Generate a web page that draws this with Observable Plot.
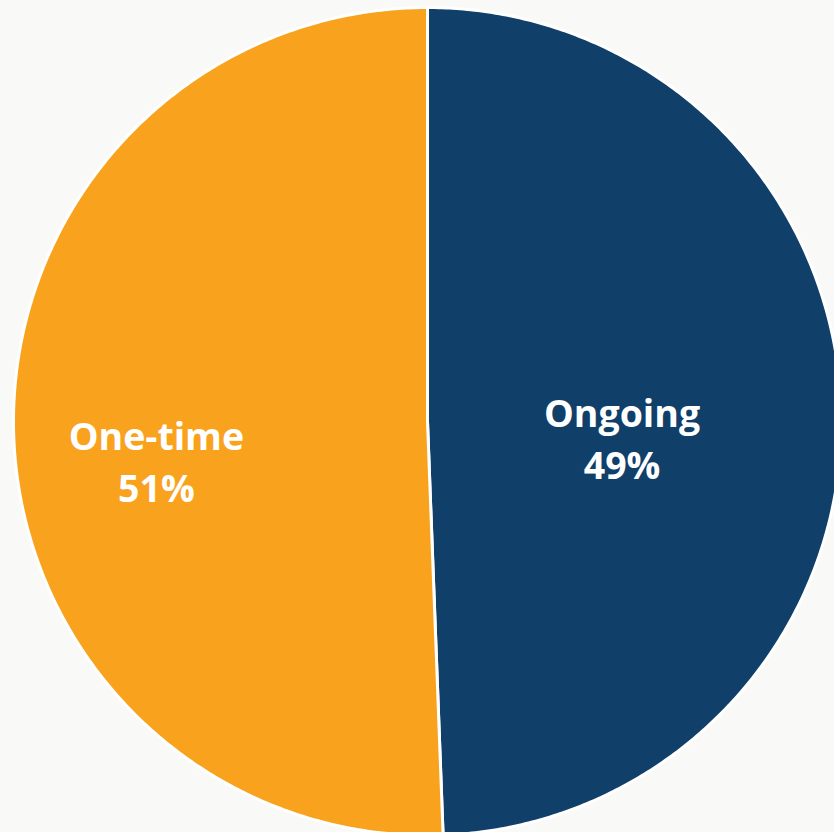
<!DOCTYPE html>
<html>
<head>
<meta charset="utf-8">
<script src="https://cdn.jsdelivr.net/npm/d3@7"></script>
<script src="https://cdn.jsdelivr.net/npm/@observablehq/plot@0.6"></script>
<style>
  html, body { margin: 0; padding: 0; background: #f9f9f8; overflow: hidden; }
  #chart svg { display: block; }
</style>
</head>
<body>
<div id="chart"></div>
<script>
// Data
const categories = ["Ongoing", "One-time"];
const shares = [49.4, 50.6];
const colors = ["#103f6a", "#f9a21e"];

// Layout / style constants
const W = 834, H = 832;
const cx = 427, cy = 421, R = 414;
const labelRadius = [0.47, 0.655];
const labelShiftY = [0.045, 0.078]; // fraction of R, downward

const total = d3.sum(shares);
let acc = 0;
const slices = categories.map((c, i) => {
  const a0 = acc / total * 2 * Math.PI;
  acc += shares[i];
  const a1 = acc / total * 2 * Math.PI;
  return {category: c, value: shares[i], a0, a1};
});

// Polygon points for each slice (angle measured clockwise from 12 o'clock)
const pts = [];
slices.forEach(s => {
  pts.push({category: s.category, x: 0, y: 0});
  const n = Math.max(8, Math.ceil((s.a1 - s.a0) / (Math.PI / 360)));
  for (let k = 0; k <= n; k++) {
    const a = s.a0 + (s.a1 - s.a0) * k / n;
    pts.push({category: s.category, x: Math.sin(a), y: Math.cos(a)});
  }
  pts.push({category: s.category, x: 0, y: 0});
});

const labels = slices.map((s, i) => {
  const m = (s.a0 + s.a1) / 2;
  return {
    category: s.category,
    x: Math.sin(m) * labelRadius[i],
    y: Math.cos(m) * labelRadius[i] - labelShiftY[i],
    text: `${s.category}\n${Math.round(s.value)}%`
  };
});

const chart = Plot.plot({
  width: W,
  height: H,
  margin: 0,
  style: {background: "#f9f9f8"},
  x: {domain: [-1, 1], range: [cx - R, cx + R], axis: null},
  y: {domain: [-1, 1], range: [cy + R, cy - R], axis: null},
  color: {domain: categories, range: colors},
  marks: [
    Plot.line(pts, {
      x: "x", y: "y", z: "category",
      fill: "category",
      stroke: "white",
      strokeWidth: 3,
      strokeLinejoin: "round",
      curve: "linear"
    }),
    Plot.text(labels, {
      x: "x", y: "y", text: "text",
      fill: "white",
      fontSize: 37.5,
      fontWeight: "bold",
      fontFamily: "'Open Sans', sans-serif",
      lineHeight: 1.39
    })
  ]
});
document.getElementById("chart").append(chart);
</script>
</body>
</html>
